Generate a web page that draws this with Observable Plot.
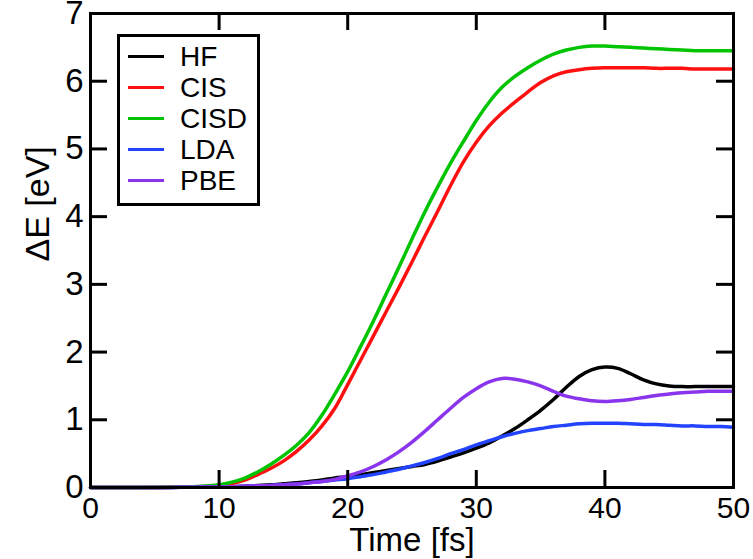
<!DOCTYPE html>
<html>
<head>
<meta charset="utf-8">
<script src="https://cdn.jsdelivr.net/npm/d3@7"></script>
<script src="https://cdn.jsdelivr.net/npm/@observablehq/plot@0.6"></script>
<style>
  html, body { margin: 0; padding: 0; background: #fff; }
  #wrap { position: relative; width: 753px; height: 559px; font-family: "Liberation Sans", Arial, sans-serif; }
  #legend { position: absolute; left: 117px; top: 34px; width: 137px; height: 166px; border: 3px solid #000; background: #fff; box-sizing: content-box; }
  .row { position: absolute; left: 0; height: 31px; line-height: 31px; font-size: 28px; color: #000; }
  .swatch { position: absolute; left: 8px; top: 14px; width: 36px; height: 0; border-top: 3.5px solid; }
  .lab { position: absolute; left: 60px; top: 0; white-space: nowrap; }
</style>
</head>
<body>
<div id="wrap"></div>
<script>
const times = [0,2,4,6,8,10,11,12,13,14,15,16,17,18,19,20,21,22,23,24,25,26,27,28,29,30,31,32,33,34,35,36,37,38,39,40,41,42,43,44,45,46,47,48,49,50];
const HF   = [0,0,0,0,0.005,0.01,0.013,0.02,0.03,0.04,0.055,0.07,0.09,0.11,0.14,0.16,0.19,0.22,0.25,0.28,0.31,0.34,0.39,0.45,0.51,0.58,0.66,0.76,0.87,1.00,1.14,1.30,1.48,1.64,1.74,1.78,1.76,1.68,1.59,1.53,1.50,1.49,1.49,1.49,1.49,1.49];
const CIS  = [0,0,0,0.003,0.01,0.03,0.06,0.11,0.19,0.28,0.39,0.53,0.70,0.91,1.17,1.52,1.88,2.24,2.60,2.96,3.33,3.71,4.08,4.46,4.81,5.10,5.34,5.53,5.69,5.84,5.98,6.08,6.14,6.17,6.19,6.20,6.20,6.20,6.20,6.19,6.19,6.19,6.18,6.18,6.18,6.18];
const CISD = [0,0,0,0.003,0.012,0.04,0.08,0.14,0.23,0.34,0.47,0.62,0.81,1.07,1.38,1.71,2.08,2.46,2.86,3.26,3.67,4.07,4.44,4.79,5.11,5.42,5.69,5.91,6.07,6.20,6.31,6.40,6.46,6.50,6.52,6.52,6.51,6.50,6.49,6.48,6.47,6.46,6.45,6.45,6.45,6.45];
const LDA  = [0,0,0,0,0.004,0.01,0.012,0.02,0.025,0.03,0.04,0.05,0.07,0.09,0.11,0.13,0.16,0.19,0.23,0.27,0.32,0.37,0.43,0.50,0.56,0.63,0.69,0.75,0.80,0.84,0.87,0.90,0.92,0.94,0.95,0.95,0.95,0.94,0.93,0.93,0.92,0.91,0.91,0.90,0.90,0.89];
const PBE  = [0,0,0,0,0.005,0.01,0.012,0.02,0.025,0.03,0.04,0.05,0.07,0.09,0.12,0.17,0.23,0.31,0.41,0.53,0.67,0.83,1.00,1.17,1.33,1.46,1.56,1.61,1.60,1.56,1.50,1.42,1.35,1.31,1.28,1.27,1.28,1.30,1.33,1.36,1.38,1.40,1.41,1.42,1.42,1.42];

const seriesNames = ["HF","CIS","CISD","LDA","PBE"];
const seriesColors = ["#000000","#ff1010","#00c400","#2244ff","#8a34ee"];
const xTicks = [0,10,20,30,40,50];
const yTicks = [0,1,2,3,4,5,6,7];
const xLabel = "Time [fs]";
const yLabel = "ΔE [eV]";

const seriesValues = {HF, CIS, CISD, LDA, PBE};
const rows = [];
seriesNames.forEach(name => {
  times.forEach((t, i) => rows.push({series: name, t, v: seriesValues[name][i]}));
});

const W = 753, H = 559, mL = 90, mR = 20, mT = 13, mB = 72;
const frameW = W - mL - mR, frameH = H - mT - mB;
const T = 17; // inward tick length in pixels

const chart = Plot.plot({
  width: W,
  height: H,
  marginLeft: mL,
  marginRight: mR,
  marginTop: mT,
  marginBottom: mB,
  style: {fontFamily: "Liberation Sans, Arial, sans-serif", background: "#fff", color: "#000"},
  x: {domain: [0, 50], axis: null},
  y: {domain: [0, 7], axis: null},
  color: {domain: seriesNames, range: seriesColors},
  marks: [
    Plot.line(rows, {x: "t", y: "v", z: "series", stroke: "series", strokeWidth: 3.5, curve: "catmull-rom"}),
    Plot.frame({stroke: "#000", strokeWidth: 3}),
    Plot.tickX(xTicks, {x: d => d, insetTop: frameH - T, stroke: "#000", strokeWidth: 3}),
    Plot.tickX(xTicks, {x: d => d, insetBottom: frameH - T, stroke: "#000", strokeWidth: 3}),
    Plot.tickY(yTicks, {y: d => d, insetRight: frameW - T, stroke: "#000", strokeWidth: 3}),
    Plot.tickY(yTicks, {y: d => d, insetLeft: frameW - T, stroke: "#000", strokeWidth: 3}),
    Plot.axisX(xTicks, {anchor: "bottom", tickSize: 0, tickPadding: 9, fontSize: 30, label: null, tickFormat: d => String(d)}),
    Plot.axisY(yTicks, {anchor: "left", tickSize: 0, tickPadding: 7, fontSize: 33, label: null, tickFormat: d => String(d)}),
    Plot.text([xLabel], {frameAnchor: "bottom", dy: 53, fontSize: 33, fill: "#000", lineAnchor: "middle"}),
    Plot.text([yLabel], {frameAnchor: "left", dx: -52, dy: 11, rotate: -90, fontSize: 34, fill: "#000", lineAnchor: "middle"})
  ]
});

const wrap = document.getElementById("wrap");
wrap.appendChild(chart);

const legend = document.createElement("div");
legend.id = "legend";
seriesNames.forEach((name, i) => {
  const row = document.createElement("div");
  row.className = "row";
  row.style.top = (4 + i * 31) + "px";
  row.style.width = "137px";
  const sw = document.createElement("span");
  sw.className = "swatch";
  sw.style.borderTopColor = seriesColors[i];
  const lab = document.createElement("span");
  lab.className = "lab";
  lab.textContent = name;
  row.appendChild(sw);
  row.appendChild(lab);
  legend.appendChild(row);
});
wrap.appendChild(legend);
</script>
</body>
</html>
